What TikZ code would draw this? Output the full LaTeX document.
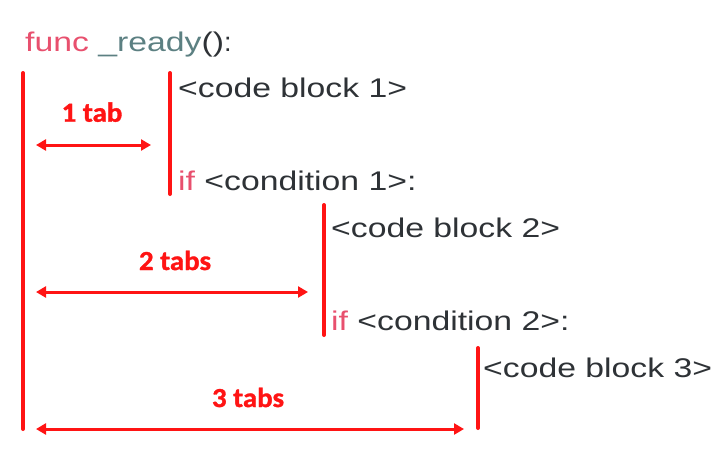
\documentclass[tikz,border=0pt]{standalone}
\usepackage{fontspec}
\setmainfont{Liberation Sans}
\newfontfamily\lblfont[BoldFeatures={FakeBold=1.2}]{Carlito}
\usetikzlibrary{arrows.meta}
\definecolor{redline}{HTML}{FF1414}
\definecolor{codegray}{HTML}{2E3236}
\definecolor{kwpink}{HTML}{E8506E}
\definecolor{fnteal}{HTML}{5C8082}
\newcommand{\stretchtxt}[1]{\scalebox{1.25}[1]{#1}}
\begin{document}
\begin{tikzpicture}[x=1pt,y=-1pt,
  code/.style={anchor=base west, inner sep=0pt, text=codegray, font=\fontsize{27}{30}\selectfont},
  lbl/.style={anchor=base, inner sep=0pt, text=redline, font=\lblfont\bfseries\fontsize{27.5}{30}\selectfont},
  bar/.style={draw=redline, line width=4pt, line cap=round},
  dimarrow/.style={draw=redline, line width=3pt, {Triangle[length=10pt,width=11pt]}-{Triangle[length=10pt,width=11pt]}}]
\useasboundingbox (0,0) rectangle (722,460);
% texts
\node[code] (func) at (25,51.7) {\stretchtxt{\textcolor{kwpink}{func} \textcolor{fnteal}{\_ready}()}:};
\node[code] (cb1) at (178,97.3) {\stretchtxt{<code block 1>}};
\node[code] (if1) at (178,190) {\stretchtxt{\textcolor{kwpink}{if} <condition 1>:}};
\node[code] (cb2) at (331,237) {\stretchtxt{<code block 2>}};
\node[code] (if2) at (331,330) {\stretchtxt{\textcolor{kwpink}{if} <condition 2>:}};
\node[code] (cb3) at (483,377) {\stretchtxt{<code block 3>}};
% labels
\node[lbl] (t1) at (92,121.7) {\scalebox{1.05}[1]{1 tab}};
\node[lbl] (t2) at (175,270) {\scalebox{1.05}[1]{2 tabs}};
\node[lbl] (t3) at (248,407) {\scalebox{1.05}[1]{3 tabs}};
% bars
\coordinate (b0t) at (23,73);
\coordinate (b0b) at (23,429);
\coordinate (b1t) at (170,73);
\coordinate (b1b) at (170,194);
\coordinate (b2t) at (324,205);
\coordinate (b2b) at (324,335);
\coordinate (b3t) at (478,348);
\coordinate (b3b) at (478,428);
\draw[bar] (b0t) -- (b0b);
\draw[bar] (b1t) -- (b1b);
\draw[bar] (b2t) -- (b2b);
\draw[bar] (b3t) -- (b3b);
% arrows
\coordinate (a1l) at (36,145);
\coordinate (a1r) at (151,145);
\coordinate (a2l) at (36,292);
\coordinate (a2r) at (308,292);
\coordinate (a3l) at (36,429);
\coordinate (a3r) at (464,429);
\draw[dimarrow] (a1l) -- (a1r);
\draw[dimarrow] (a2l) -- (a2r);
\draw[dimarrow] (a3l) -- (a3r);
\end{tikzpicture}
\end{document}
